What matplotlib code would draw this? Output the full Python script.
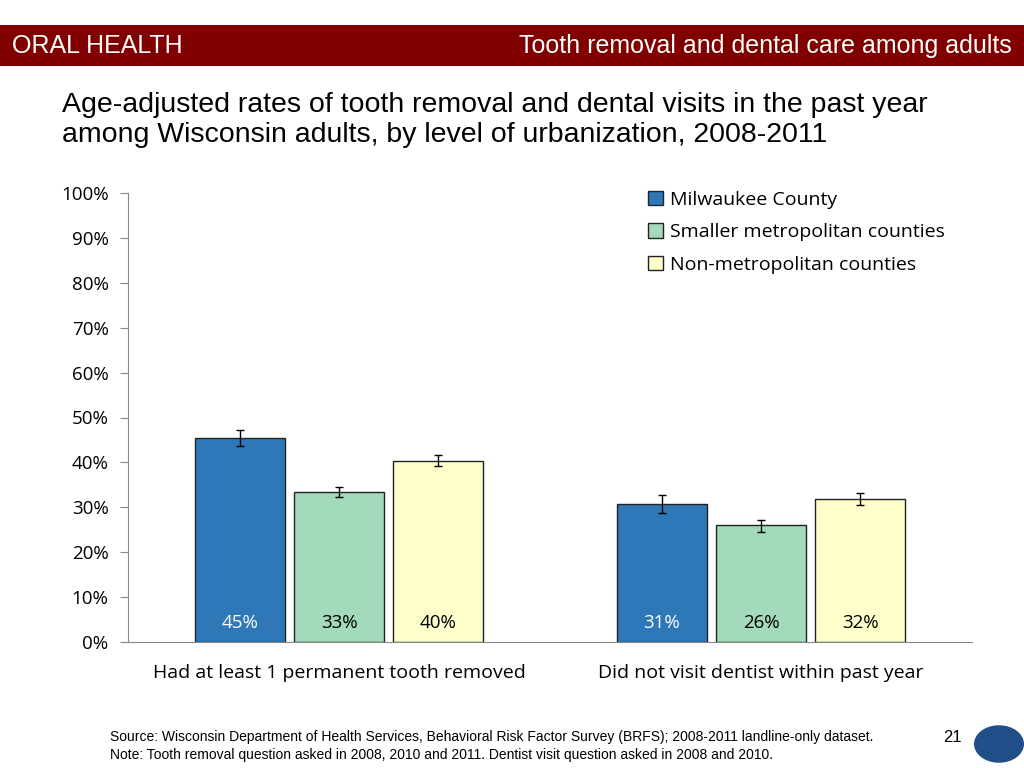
import matplotlib.pyplot as plt
from matplotlib.patches import Rectangle, Circle
import numpy as np

categories = ['Had at least 1 permanent tooth removed', 'Did not visit dentist within past year']
series = ['Milwaukee County', 'Smaller metropolitan counties', 'Non-metropolitan counties']
values = [[45.4, 30.7], [33.4, 26.1], [40.3, 31.8]]
err_low = [[43.7, 28.7], [32.3, 24.6], [39.2, 30.6]]
err_high = [[47.2, 32.7], [34.5, 27.2], [41.6, 33.1]]
labels = [['45%', '31%'], ['33%', '26%'], ['40%', '32%']]
colors = ['#2E78B7', '#A3DABB', '#FFFFCC']
label_colors = ['white', 'black', 'black']

font_body = ['Open Sans', 'DejaVu Sans']
font_head = ['Liberation Sans', 'DejaVu Sans']

fig = plt.figure(figsize=(10.24, 7.68), dpi=100)

# header band
fig.patches.append(Rectangle((0, 1 - 66/768), 1, 41/768, transform=fig.transFigure,
                             facecolor='#800000', edgecolor='none'))
fig.text(12/1024, 1 - 46/768, 'ORAL HEALTH', color='white', fontsize=18,
         family=font_head, va='center', ha='left')
fig.text(1012/1024, 1 - 46/768, 'Tooth removal and dental care among adults', color='white',
         fontsize=18, family=font_head, va='center', ha='right')

fig.text(62/1024, 1 - 120/768,
         'Age-adjusted rates of tooth removal and dental visits in the past year\namong Wisconsin adults, by level of urbanization, 2008-2011',
         fontsize=20.5, family=font_head, va='center', ha='left',
         linespacing=1.22)

ax = fig.add_axes([128/1024, 126/768, 844/1024, 449/768])
x = np.arange(len(categories))
width = 0.213
offsets = [-0.235, 0, 0.235]
for i, name in enumerate(series):
    v = np.array(values[i])
    lo = v - np.array(err_low[i])
    hi = np.array(err_high[i]) - v
    ax.bar(x + offsets[i], v, width, color=colors[i], edgecolor='#222222', linewidth=1,
           label=name, yerr=[lo, hi], capsize=3,
           error_kw=dict(ecolor='black', elinewidth=1, capthick=1))
    for j in range(len(categories)):
        ax.text(x[j] + offsets[i], 4.3, labels[i][j], ha='center', va='center',
                fontsize=13.5, color=label_colors[i], family=font_body)

ax.set_xlim(-0.5, 1.5)
ax.set_ylim(0, 100)
ax.set_yticks(np.arange(0, 101, 10))
ax.set_yticklabels([f'{t}%' for t in range(0, 101, 10)], family=font_body, fontsize=13.5)
ax.set_xticks(x)
ax.set_xticklabels(categories, family=font_body, fontsize=14)
ax.tick_params(axis='x', length=0, pad=16)
ax.tick_params(axis='y', length=6, color='#888888', direction='out', pad=8)
for s in ['top', 'right']:
    ax.spines[s].set_visible(False)
ax.spines['left'].set_color('#888888')
ax.spines['bottom'].set_color('#888888')

leg = ax.legend(loc='upper left', bbox_to_anchor=(520/844, 1.005), frameon=False,
                prop={'family': font_body, 'size': 14}, handlelength=0.75, handleheight=0.75,
                handletextpad=0.4, labelspacing=0.75, borderpad=0, borderaxespad=0)

fig.text(110/1024, 1 - 746/768,
         'Source: Wisconsin Department of Health Services, Behavioral Risk Factor Survey (BRFS); 2008-2011 landline-only dataset.\nNote: Tooth removal question asked in 2008, 2010 and 2011. Dentist visit question asked in 2008 and 2010.',
         fontsize=10, family=font_head, va='center', ha='left', linespacing=1.3)
fig.text(952/1024, 1 - 738/768, '21', fontsize=12, family=font_head,
         va='center', ha='center')

# logo circle
fig.patches.append(Circle((999/1024, 1 - 744/768), 25/1024, transform=fig.transFigure,
                          facecolor='#1F4E89', edgecolor='none'))

fig.savefig('out.png', dpi=100)
